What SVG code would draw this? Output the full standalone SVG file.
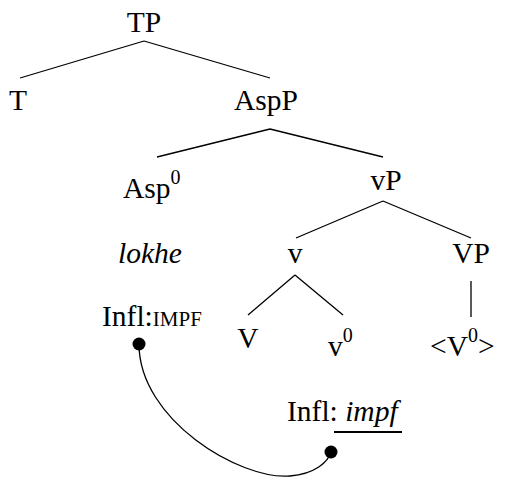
<svg xmlns="http://www.w3.org/2000/svg" width="510" height="479" viewBox="0 0 510 479">
<style>
text{font-family:'Liberation Serif','Times New Roman',serif;font-size:29.5px;fill:#000}
.c{text-anchor:middle}
.i{font-style:italic}
.sup{font-size:20px}
.sc{font-size:21px}
.e{stroke:#000;stroke-width:1.3;fill:none}
</style>
<rect width="510" height="479" fill="#fff"/>
<g id="connectors">
<path class="e" d="M144,41 L20,78 M144,41 L270,78"/>
<path class="e" d="M270,129 L157,157 M270,129 L383,157"/>
<path class="e" d="M383,201 L296,238 M383,201 L471,238"/>
<path class="e" d="M295,275 L248,315 M295,275 L343,315"/>
<path class="e" d="M471,281 L471,317"/>
<path class="e" stroke-width="1.6" d="M139,344 C139,420 240,480 290,476 C315,474 328,462 331,452"/>
<circle cx="139" cy="344" r="6.5" fill="#000"/>
<circle cx="331" cy="452" r="6.5" fill="#000"/>
</g>
<g id="TP"><text class="c" x="144" y="32">TP</text></g>
<g id="T"><text x="9" y="110">T</text></g>
<g id="AspP"><text class="c" x="266" y="110">AspP</text></g>
<g id="Asp0"><text x="123" y="198">Asp<tspan class="sup" dy="-14">0</tspan></text></g>
<g id="vP"><text class="c" x="386" y="190">vP</text></g>
<g id="lokhe"><text class="c i" x="150" y="263">lokhe</text></g>
<g id="v"><text class="c" x="295" y="263">v</text></g>
<g id="VP"><text class="c" x="471" y="263">VP</text></g>
<g id="InflIMPF"><text x="102" y="326">Infl:<tspan class="sc">IMPF</tspan></text></g>
<g id="V"><text class="c" x="248" y="348">V</text></g>
<g id="v0"><text x="328" y="356">v<tspan class="sup" dy="-14">0</tspan></text></g>
<g id="V0trace"><text x="430" y="356">&lt;V<tspan class="sup" dy="-14">0</tspan><tspan dy="14">&gt;</tspan></text></g>
<g id="Inflimpf"><text x="287" y="421">Infl: <tspan class="i">impf</tspan></text>
<line x1="334" y1="432" x2="402" y2="432" stroke="#000" stroke-width="2"/></g>
</svg>
